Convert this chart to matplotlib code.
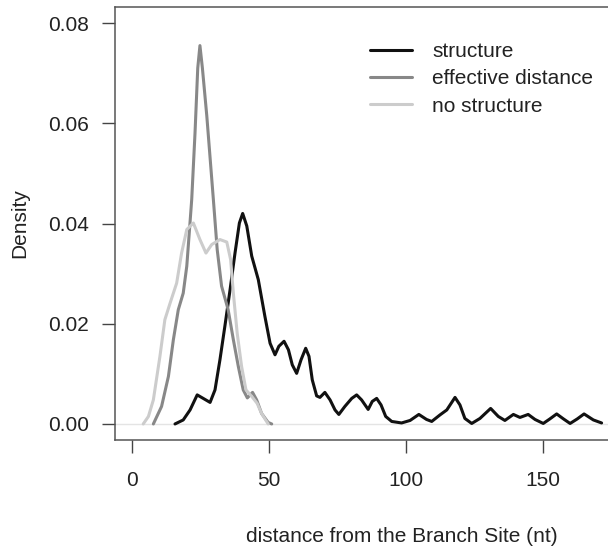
import matplotlib
matplotlib.use("Agg")
import matplotlib.pyplot as plt

plt.rcParams['font.family'] = ['Liberation Sans', 'DejaVu Sans']

# density curves
structure_x = [15.7, 18.7, 21.2, 23.8, 26.0, 28.5, 30.3, 32.1, 33.9, 35.8, 37.6, 39.2, 40.4,
               41.9, 43.7, 46.1, 48.5, 50.4, 52.2, 53.6, 55.5, 57.1, 58.5, 60.1, 61.7, 63.4,
               64.6, 65.8, 67.4, 68.6, 70.4, 72.3, 74.1, 75.5, 77.7, 80.2, 82.0, 83.8, 86.2,
               87.7, 89.3, 90.9, 92.6, 94.8, 98.4, 101.5, 104.7, 107.5, 109.4, 112.4, 114.9,
               117.9, 119.7, 121.5, 124.0, 127.0, 130.9, 133.7, 136.1, 139.2, 141.6, 144.6,
               147.1, 150.1, 152.5, 155.0, 157.5, 159.9, 162.5, 165.0, 168.4, 171.4]
structure_y = [0.0, 0.0008, 0.0028, 0.0058, 0.0051, 0.0043, 0.0068, 0.0128, 0.0195, 0.0268,
               0.0341, 0.0401, 0.0420, 0.0395, 0.0335, 0.0288, 0.0215, 0.0161, 0.0138, 0.0155,
               0.0165, 0.0148, 0.0118, 0.0101, 0.0128, 0.0151, 0.0135, 0.0088, 0.0056, 0.0053,
               0.0063, 0.0048, 0.0028, 0.0019, 0.0035, 0.0051, 0.0058, 0.0048, 0.0029, 0.0045,
               0.0051, 0.0038, 0.0015, 0.0005, 0.0002, 0.0007, 0.0019, 0.0009, 0.0005, 0.0018,
               0.0028, 0.0053, 0.0038, 0.0011, 0.0001, 0.0011, 0.0031, 0.0015, 0.0007, 0.0019,
               0.0013, 0.0019, 0.0009, 0.0001, 0.0010, 0.0020, 0.0010, 0.0001, 0.0010, 0.0020,
               0.0008, 0.0002]

effective_x = [7.8, 10.8, 13.3, 15.1, 16.9, 18.7, 20.0, 20.9, 21.8, 23.0, 24.0, 24.8, 25.7,
               27.3, 29.7, 31.1, 32.7, 35.1, 37.0, 38.8, 40.6, 42.1, 44.0, 45.5, 47.3, 49.7,
               51.0]
effective_y = [0.0, 0.0035, 0.0095, 0.0168, 0.0228, 0.0261, 0.0315, 0.0381, 0.0448, 0.0580,
               0.0710, 0.0755, 0.0710, 0.0615, 0.0448, 0.0348, 0.0275, 0.0228, 0.0168, 0.0115,
               0.0068, 0.0052, 0.0063, 0.0048, 0.0021, 0.0003, 0.0]

nostruct_x = [4.1, 6.0, 7.8, 10.2, 12.0, 13.9, 16.3, 18.1, 20.0, 22.4, 24.8, 27.0, 29.1, 32.1,
              34.6, 36.0, 37.0, 38.4, 40.0, 41.6, 43.7, 45.7, 47.3, 49.7]
nostruct_y = [0.0, 0.0015, 0.0048, 0.0135, 0.0208, 0.0241, 0.0281, 0.0341, 0.0388, 0.0401,
              0.0368, 0.0341, 0.0358, 0.0368, 0.0363, 0.0328, 0.0261, 0.0181, 0.0115, 0.0068,
              0.0055, 0.0041, 0.0021, 0.0]

series_labels = ["structure", "effective distance", "no structure"]
series_colors = ["#111111", "#888888", "#cccccc"]

x_ticks = [0, 50, 100, 150]
y_ticks = [0.00, 0.02, 0.04, 0.06, 0.08]

W, H = 608, 550
fig = plt.figure(figsize=(W / 100, H / 100), dpi=100)
# the plot region runs past the right edge of the picture, as in the reference
ax = fig.add_axes([115 / W, 1 - 440 / H, (689 - 115) / W, (440 - 7) / H])

ax.axhline(0, color="#e4e4e4", lw=1, zorder=1)
for xs, ys, lab, col in zip([structure_x, effective_x, nostruct_x],
                            [structure_y, effective_y, nostruct_y],
                            series_labels, series_colors):
    ax.plot(xs, ys, color=col, lw=2.2, label=lab, solid_joinstyle="round",
            solid_capstyle="round", zorder=3)

ax.set_xlim(-6.2, 203.3)
ax.set_ylim(-0.0032, 0.0832)
ax.set_xticks(x_ticks)
ax.set_yticks(y_ticks)
ax.set_yticklabels([f"{v:.2f}" for v in y_ticks])
ax.tick_params(axis="both", length=9.5, width=1.0, color="#444444", labelsize=15,
               labelcolor="#222222")
ax.tick_params(axis="x", pad=13)
ax.tick_params(axis="y", pad=9)
for spine in ax.spines.values():
    spine.set_color("#555555")
    spine.set_linewidth(1.1)

fig.text(20 / W, 1 - 223 / H, "Density", rotation=90, ha="center", va="center",
         fontsize=15, color="#222222")
fig.text(402 / W, 1 - 537 / H, "distance from the Branch Site (nt)", ha="center",
         va="center", fontsize=15, color="#222222")

leg = ax.legend(loc="upper left", bbox_to_anchor=(370 / W, 1 - 42 / H),
                bbox_transform=fig.transFigure, frameon=False, fontsize=15,
                handlelength=2.0, handletextpad=1.0, labelspacing=0.4, borderpad=0,
                borderaxespad=0)
for t in leg.get_texts():
    t.set_color("#222222")

fig.savefig("out.png", dpi=100)
